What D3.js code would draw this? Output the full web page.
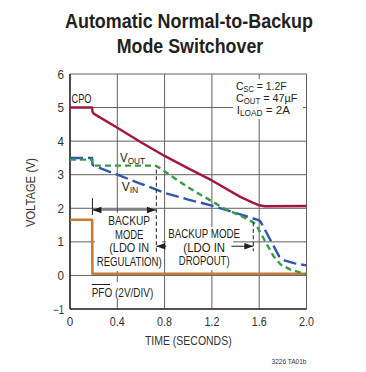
<!DOCTYPE html>
<html><head><meta charset="utf-8">
<script src="https://cdn.jsdelivr.net/npm/d3@7"></script>
<style>
body{margin:0;background:#fff}
svg{display:block}
text{font-family:'Liberation Sans Narrow','Arial Narrow','Liberation Sans',sans-serif;fill:#231f20}
</style>
</head><body>
<svg id="c" width="366" height="372"></svg>
<script>
// ---------- data ----------
const xTicks = [0, 0.4, 0.8, 1.2, 1.6, 2.0];
const xTickLabels = ["0", "0.4", "0.8", "1.2", "1.6", "2.0"];
const yTicks = [-1, 0, 1, 2, 3, 4, 5, 6];
const yTickLabels = ["\u22121", "0", "1", "2", "3", "4", "5", "6"];

const cpo = [[0,5.0],[0.187,5.0],[0.19,4.88],[0.2,4.82],[0.4,4.4],[0.6,3.97],[0.8,3.56],[1.0,3.19],[1.2,2.83],[1.44,2.34],[1.55,2.16],[1.6,2.09],[1.65,2.06],[2.0,2.07]];
const vin = [[0,3.5],[0.187,3.5],[0.19,3.3],[0.2,3.27],[0.4,3.0],[0.6,2.73],[0.8,2.46],[1.0,2.26],[1.2,2.08],[1.44,1.82],[1.6,1.64],[1.615,1.58],[1.77,0.56],[1.82,0.44],[1.9,0.36],[2.0,0.3]];
const vout = [[0,3.45],[0.187,3.45],[0.19,3.3],[0.2,3.27],[0.72,3.27],[0.75,3.22],[0.8,3.1],[0.9,2.86],[1.0,2.62],[1.1,2.41],[1.2,2.21],[1.3,2.0],[1.44,1.78],[1.55,1.58],[1.575,1.5],[1.72,0.58],[1.78,0.33],[1.86,0.18],[2.0,0.03]];
const pfo = [[0,1.66],[0.187,1.66],[0.19,0.05],[2.0,0.05]];

const seriesNames = ["CPO", "VIN", "VOUT", "PFO"];
const seriesColors = ["#a3173d", "#2f57b0", "#3a9a48", "#c67b36"];

// ---------- scales ----------
const svg = d3.select("#c");
const x = d3.scaleLinear().domain([0, 2]).range([70, 306.5]);
const y = d3.scaleLinear().domain([-1, 6]).range([309, 74]);

// ---------- grid ----------
const g = svg.append("g");
g.selectAll(".vg").data(xTicks).join("line")
  .attr("x1", d => x(d)).attr("x2", d => x(d)).attr("y1", y(6)).attr("y2", y(-1))
  .attr("stroke", "#5f6062").attr("stroke-width", 1);
g.selectAll(".hg").data(yTicks).join("line")
  .attr("x1", x(0)).attr("x2", x(2)).attr("y1", d => y(d)).attr("y2", d => y(d))
  .attr("stroke", "#5f6062").attr("stroke-width", 1);

// white boxes behind labels (hide grid)
const boxes = [[95,213,67,58],[166,227,67,43],[233,79,70,40],[90,282,65,18],[118,147,30,18],[119,178,22,19],[70,92,24,12]];
svg.append("g").selectAll("rect").data(boxes).join("rect")
  .attr("x", d => d[0]).attr("y", d => d[1]).attr("width", d => d[2]).attr("height", d => d[3])
  .attr("fill", "#fff");

// axes frame
svg.append("line").attr("x1", x(0)).attr("x2", x(0)).attr("y1", y(6)).attr("y2", y(-1)).attr("stroke", "#333").attr("stroke-width", 1.6);
svg.append("line").attr("x1", x(0)).attr("x2", x(2)).attr("y1", y(-1)).attr("y2", y(-1)).attr("stroke", "#333").attr("stroke-width", 1.6);

// tick labels
svg.append("g").selectAll("text").data(xTicks).join("text")
  .attr("x", d => x(d)).attr("y", 326).attr("text-anchor", "middle")
  .attr("font-size", 12).style("fill", "#333")
  .attr("textLength", (d, i) => xTickLabels[i].length > 1 ? 15 : 6.5).attr("lengthAdjust", "spacingAndGlyphs")
  .text((d, i) => xTickLabels[i]);
svg.append("g").selectAll("text").data(yTicks).join("text")
  .attr("x", 64).attr("y", d => y(d) + 4.5).attr("text-anchor", "end")
  .attr("font-size", 12).style("fill", "#333")
  .attr("textLength", (d, i) => yTickLabels[i].length > 1 ? 11 : 6.5).attr("lengthAdjust", "spacingAndGlyphs")
  .text((d, i) => yTickLabels[i]);

// axis titles
svg.append("text").attr("x", 188.3).attr("y", 345).attr("text-anchor", "middle")
  .attr("font-size", 12.5).style("fill", "#333").text("TIME (SECONDS)")
  .attr("textLength", 86.7).attr("lengthAdjust", "spacingAndGlyphs");
svg.append("text").attr("transform", "translate(35,192.5) rotate(-90)").attr("text-anchor", "middle")
  .attr("font-size", 12.5).style("fill", "#333").text("VOLTAGE (V)")
  .attr("textLength", 69).attr("lengthAdjust", "spacingAndGlyphs");

// ---------- curves ----------
const line = d3.line().x(d => x(d[0])).y(d => y(d[1]));
const curves = [
  {data: pfo, color: seriesColors[3], dash: null, w: 2.6},
  {data: cpo, color: seriesColors[0], dash: null, w: 2.4},
  {data: vin, color: seriesColors[1], dash: "13,5", w: 2.4},
  {data: vout, color: seriesColors[2], dash: "6,4", w: 2.4}
];
svg.append("g").selectAll("path").data(curves).join("path")
  .attr("d", d => line(d.data)).attr("fill", "none")
  .attr("stroke", d => d.color).attr("stroke-width", d => d.w)
  .attr("stroke-dasharray", d => d.dash).attr("stroke-linejoin", "round");

// ---------- annotations ----------
const ann = svg.append("g").attr("stroke", "#231f20").attr("stroke-width", 1).attr("fill", "none");
function arrowHead(px, py, dir) {
  svg.append("path").attr("d", `M${px},${py} l${-dir*9},-3.2 l0,6.4 Z`).attr("fill", "#231f20");
}
ann.append("line").attr("x1", x(0.19)).attr("x2", x(0.19)).attr("y1", y(2.3)).attr("y2", y(1.8));
ann.append("line").attr("x1", x(0.19)).attr("x2", x(0.727)).attr("y1", y(1.95)).attr("y2", y(1.95));
arrowHead(x(0.19), y(1.95), -1);
arrowHead(x(0.727), y(1.95), 1);
ann.append("line").attr("x1", x(0.73)).attr("x2", x(0.73)).attr("y1", y(3.15)).attr("y2", y(0.65)).attr("stroke-dasharray", "4,2.5");
ann.append("line").attr("x1", x(1.55)).attr("x2", x(1.55)).attr("y1", y(1.58)).attr("y2", y(0.72)).attr("stroke-dasharray", "4,2.5");
ann.append("line").attr("x1", x(0.73)).attr("x2", x(0.815)).attr("y1", y(0.87)).attr("y2", y(0.87));
ann.append("line").attr("x1", x(1.365)).attr("x2", x(1.55)).attr("y1", y(0.87)).attr("y2", y(0.87));
arrowHead(x(0.73), y(0.87), -1);
arrowHead(x(1.55), y(0.87), 1);

// ---------- text ----------
function block(lines, cx, ys, widths, size) {
  lines.forEach((t, i) => {
    const el = svg.append("text").attr("x", cx).attr("y", ys[i]).attr("text-anchor", "middle")
      .attr("font-size", size).text(t);
    if (widths) el.attr("textLength", widths[i]).attr("lengthAdjust", "spacingAndGlyphs");
  });
}
block(["BACKUP", "MODE", "(LDO IN", "REGULATION)"], 129.2, [225, 238.5, 252, 265.5], [41.7, 28.3, 40, 65], 12.5);
block(["BACKUP MODE", "(LDO IN", "DROPOUT)"], 204.2, [238.3, 251.7, 265.1], [71.7, 41.7, 50.7], 12.2);

svg.append("text").attr("x", 71.5).attr("y", 102.7).attr("font-size", 12.5).text("CPO")
  .attr("textLength", 20).attr("lengthAdjust", "spacingAndGlyphs");

function subText(px, py, parts, size, width) {
  const t = svg.append("text").attr("x", px).attr("y", py).attr("font-size", size);
  let shifted = 0;
  parts.forEach(p => {
    const s = t.append("tspan").text(p.t);
    if (p.sub) { s.attr("font-size", size * 0.72).attr("dy", 2.2 - shifted); shifted = 2.2; }
    else { s.attr("dy", -shifted); shifted = 0; }
  });
  if (width) t.attr("textLength", width).attr("lengthAdjust", "spacingAndGlyphs");
  return t;
}
subText(120, 161.7, [{t: "V"}, {t: "OUT", sub: true}], 13, 25);
subText(121.7, 191, [{t: "V"}, {t: "IN", sub: true}], 13, 16.6);

subText(236, 89.5, [{t: "C"}, {t: "SC", sub: true}, {t: " = 1.2F"}], 11.5, 50.7);
subText(236, 101.7, [{t: "C"}, {t: "OUT", sub: true}, {t: " = 47\u00b5F"}], 11.5, 61.3);
subText(236.7, 113.9, [{t: "I"}, {t: "LOAD", sub: true}, {t: " = 2A"}], 11.5, 53.3);

// PFO label with overline
svg.append("text").attr("x", 91.7).attr("y", 296.5).attr("font-size", 12.5)
  .attr("textLength", 61.6).attr("lengthAdjust", "spacingAndGlyphs").text("PFO (2V/DIV)");
svg.append("line").attr("x1", 91.7).attr("x2", 110).attr("y1", 284.5).attr("y2", 284.5)
  .attr("stroke", "#231f20").attr("stroke-width", 1);

// title
svg.append("text").attr("x", 189).attr("y", 28.3).attr("text-anchor", "middle")
  .attr("font-size", 20).attr("font-weight", "bold").text("Automatic Normal-to-Backup")
  .attr("textLength", 248).attr("lengthAdjust", "spacingAndGlyphs");
svg.append("text").attr("x", 190).attr("y", 53.3).attr("text-anchor", "middle")
  .attr("font-size", 20).attr("font-weight", "bold").text("Mode Switchover")
  .attr("textLength", 146.5).attr("lengthAdjust", "spacingAndGlyphs");

svg.append("text").attr("x", 306.5).attr("y", 364).attr("text-anchor", "end")
  .attr("font-size", 7.5).style("fill", "#333").text("3226 TA01b")
  .attr("textLength", 35).attr("lengthAdjust", "spacingAndGlyphs");
</script>
</body></html>
